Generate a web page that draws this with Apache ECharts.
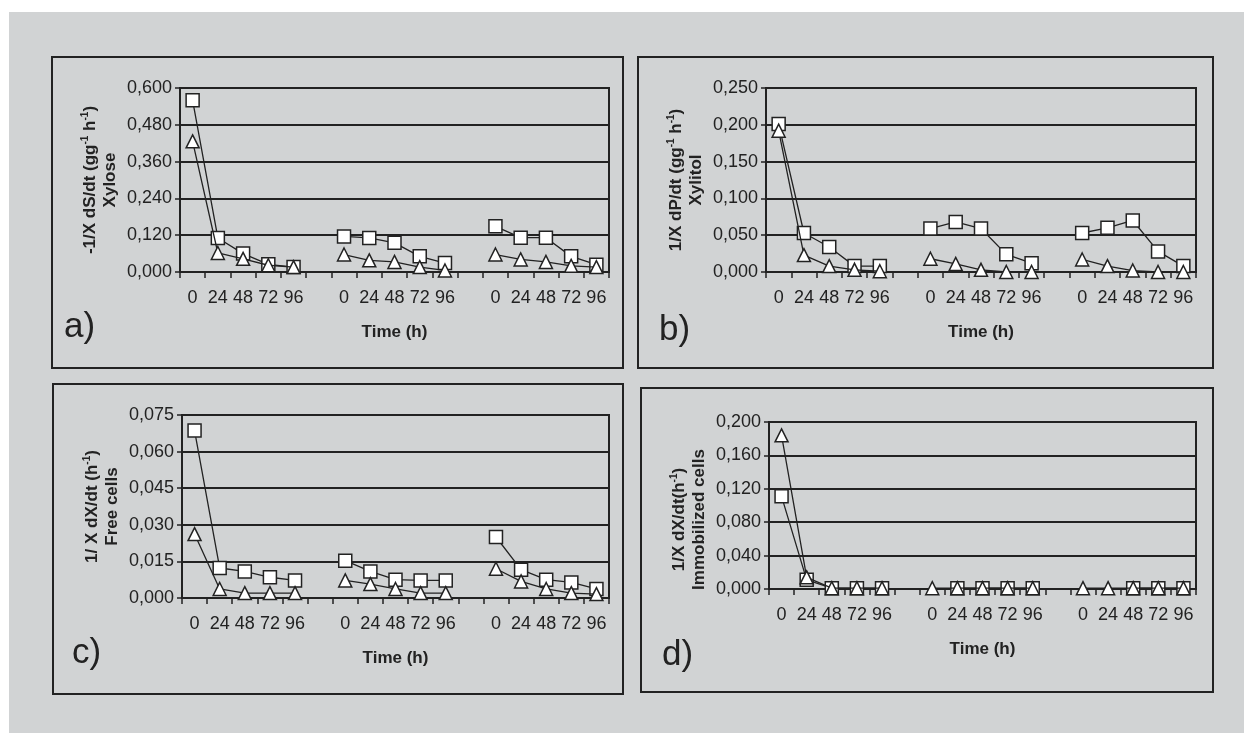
<!DOCTYPE html>
<html>
<head>
<meta charset="utf-8">
<title>Specific rates</title>
<script src="https://cdn.jsdelivr.net/npm/echarts@6.0.0/dist/echarts.min.js"></script>
<style>
    html, body { margin: 0; padding: 0; background: #fff; }
    #chart { width: 1244px; height: 733px; }
</style>
</head>
<body>
<div id="chart"></div>
<script>
    const timeLabels = ['0', '24', '48', '72', '96']

    // three runs, five sampling times each
    const xyloseSquares = [0.560, 0.111, 0.060, 0.025, 0.016, 0.116, 0.111, 0.095, 0.051, 0.029, 0.149, 0.112, 0.112, 0.051, 0.024]
    const xyloseTriangles = [0.426, 0.062, 0.043, 0.022, 0.016, 0.057, 0.038, 0.033, 0.016, 0.005, 0.057, 0.041, 0.033, 0.020, 0.016]
    const xylitolSquares = [0.201, 0.053, 0.034, 0.008, 0.008, 0.059, 0.068, 0.059, 0.024, 0.012, 0.053, 0.060, 0.070, 0.028, 0.008]
    const xylitolTriangles = [0.192, 0.023, 0.008, 0.003, 0.001, 0.018, 0.011, 0.003, 0.000, 0.000, 0.017, 0.008, 0.002, 0.000, 0.000]
    const freeSquares = [0.0686, 0.0123, 0.0109, 0.0085, 0.0072, 0.0153, 0.0109, 0.0075, 0.0072, 0.0072, 0.0250, 0.0116, 0.0075, 0.0064, 0.0037]
    const freeTriangles = [0.0262, 0.0037, 0.0020, 0.0020, 0.0020, 0.0072, 0.0057, 0.0037, 0.0020, 0.0020, 0.0120, 0.0068, 0.0037, 0.0020, 0.0016]
    const immobSquares = [0.111, 0.011, 0.001, 0.001, 0.001, null, 0.001, 0.001, 0.001, 0.001, null, null, 0.001, 0.001, 0.001]
    const immobTriangles = [0.184, 0.014, 0.001, 0.001, 0.001, 0.001, 0.001, 0.001, 0.001, 0.001, 0.001, 0.001, 0.001, 0.001, 0.001]

    const categories = [].concat(timeLabels, [''], timeLabels, [''], timeLabels)

    // blank category between runs so the lines break
    function withGaps(values) {
        return [].concat(values.slice(0, 5), [null], values.slice(5, 10), [null], values.slice(10, 15))
    }

    const ink = '#222'
    const font = 'Liberation Sans, Arial, sans-serif'

    const panels = [
        {
            letter: 'a)', box: [52, 57, 571, 311], letterPos: [64, 327],
            grid: {left: 180, top: 88, width: 429, height: 184},
            max: 0.6, interval: 0.12, nameShift: 0,
            yName: '{t|-1/X dS/dt (gg}{s|-1}{t| h}{s|-1}{t|)}\n{t|Xylose}',
            squares: xyloseSquares, triangles: xyloseTriangles
        },
        {
            letter: 'b)', box: [638, 57, 575, 311], letterPos: [659, 330],
            grid: {left: 766, top: 88, width: 430, height: 184},
            max: 0.25, interval: 0.05, nameShift: 0,
            yName: '{t|1/X dP/dt (gg}{s|-1}{t| h}{s|-1}{t|)}\n{t|Xylitol}',
            squares: xylitolSquares, triangles: xylitolTriangles
        },
        {
            letter: 'c)', box: [53, 384, 570, 310], letterPos: [72, 653],
            grid: {left: 182, top: 415, width: 427, height: 183},
            max: 0.075, interval: 0.015, nameShift: 0,
            yName: '{t|1/ X dX/dt (h}{s|-1}{t|)}\n{t|Free cells}',
            squares: freeSquares, triangles: freeTriangles
        },
        {
            letter: 'd)', box: [641, 388, 572, 304], letterPos: [662, 655],
            grid: {left: 769, top: 422, width: 427, height: 167},
            max: 0.2, interval: 0.04, nameShift: 28,
            yName: '{t|1/X dX/dt(h}{s|-1}{t|)}\n{t|Immobilized cells}',
            squares: immobSquares, triangles: immobTriangles
        }
    ]

    const graphic = [{
        type: 'rect', z: -10,
        shape: {x: 9, y: 12, width: 1235, height: 721},
        style: {fill: '#d1d3d4'}
    }]

    panels.forEach(p => {
        graphic.push({
            type: 'rect', z: -5,
            shape: {x: p.box[0], y: p.box[1], width: p.box[2], height: p.box[3]},
            style: {fill: 'none', stroke: ink, lineWidth: 2}
        })
        graphic.push({
            type: 'text',
            style: {
                x: p.letterPos[0], y: p.letterPos[1], text: p.letter,
                fill: ink, font: '35px ' + font, verticalAlign: 'middle'
            }
        })
    })

    const option = {
        animation: false,
        backgroundColor: '#fff',
        graphic: graphic,
        grid: panels.map(p => Object.assign({
            show: true, borderColor: ink, borderWidth: 2, backgroundColor: 'transparent'
        }, p.grid)),
        xAxis: panels.map((p, i) => ({
            type: 'category',
            gridIndex: i,
            data: categories,
            boundaryGap: true,
            axisLine: {lineStyle: {color: ink, width: 2}},
            axisTick: {show: true, interval: 0, length: 6, lineStyle: {color: ink, width: 1.5}},
            axisLabel: {interval: 0, margin: 17, fontSize: 18, color: ink, fontFamily: font},
            name: 'Time (h)',
            nameLocation: 'middle',
            nameGap: 52,
            nameTextStyle: {fontSize: 17, fontWeight: 'bold', color: ink, fontFamily: font}
        })),
        yAxis: panels.map((p, i) => ({
            type: 'value',
            gridIndex: i,
            min: 0,
            max: p.max,
            interval: p.interval,
            axisLine: {show: true, lineStyle: {color: ink, width: 2}},
            axisTick: {show: true, length: 5, lineStyle: {color: ink, width: 1.5}},
            axisLabel: {
                margin: 8, fontSize: 18, color: ink, fontFamily: font,
                formatter: v => v.toFixed(3).replace('.', ',')
            },
            splitLine: {lineStyle: {color: ink, width: 2}},
            name: p.yName,
            nameLocation: 'middle',
            nameRotate: 90,
            nameGap: 60,
            nameTextStyle: {
                padding: [0, p.nameShift, 0, 0],
                rich: {
                    t: {fontSize: 17, fontWeight: 'bold', color: ink, fontFamily: font, lineHeight: 20},
                    s: {fontSize: 10, fontWeight: 'bold', color: ink, fontFamily: font, lineHeight: 12, verticalAlign: 'top'}
                }
            }
        })),
        series: []
    }

    panels.forEach((p, i) => {
        option.series.push({
            name: 'squares',
            type: 'line',
            xAxisIndex: i,
            yAxisIndex: i,
            data: withGaps(p.squares),
            symbol: 'rect',
            symbolSize: 13,
            showSymbol: true,
            lineStyle: {color: ink, width: 1.3},
            itemStyle: {color: '#fff', borderColor: ink, borderWidth: 1.5},
            z: 3
        })
        option.series.push({
            name: 'triangles',
            type: 'line',
            xAxisIndex: i,
            yAxisIndex: i,
            data: withGaps(p.triangles),
            symbol: 'triangle',
            symbolSize: 13,
            showSymbol: true,
            lineStyle: {color: ink, width: 1.3},
            itemStyle: {color: '#fff', borderColor: ink, borderWidth: 1.5},
            z: 4
        })
    })

    const chart = echarts.init(document.getElementById('chart'))
    chart.setOption(option)
</script>
</body>
</html>
